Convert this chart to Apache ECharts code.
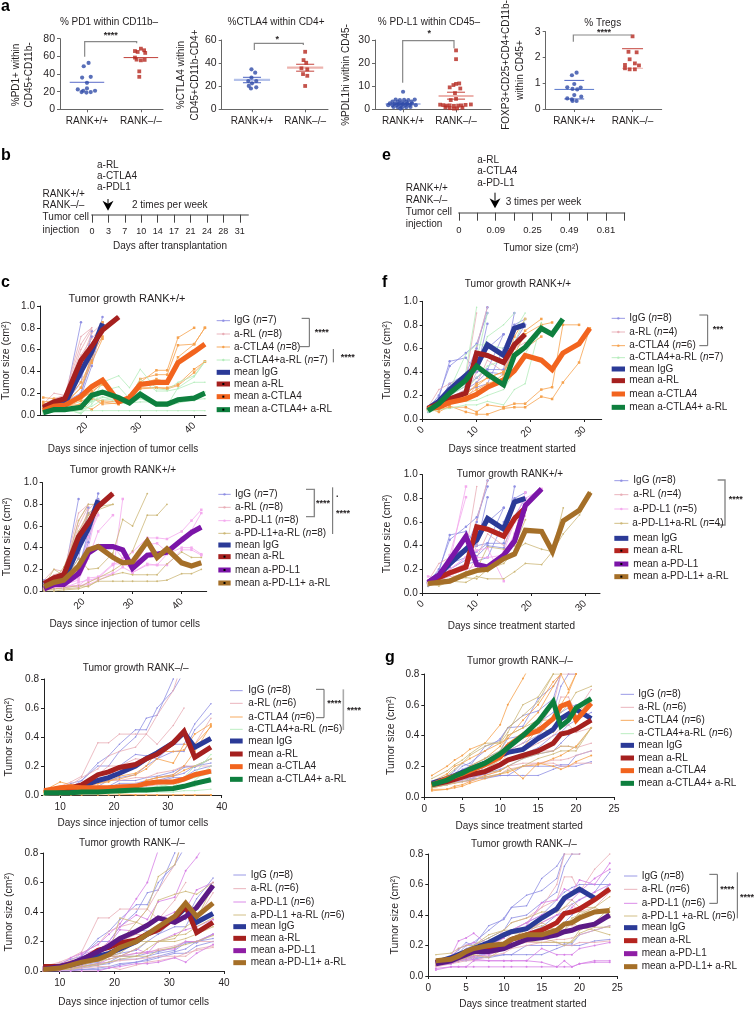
<!DOCTYPE html>
<html><head><meta charset="utf-8">
<style>html,body{margin:0;padding:0;background:#fff}#c{width:755px;height:1010px}</style>
<script src="https://cdn.jsdelivr.net/npm/echarts@6/dist/echarts.min.js"></script>
</head><body><div id="c"></div>
<script>
// ---------- PANEL a values: [jittered group position, value] ----------
const groupLabels = ['RANK+/+', 'RANK–/–'];
const a1Blue = [[1.03,52.6],[.94,48.8],[.91,36],[1.07,36.8],[1,30],[.83,22.5],[.93,21],[1,23.7],[.99,19],[1.07,19.5],[1.15,21],[.9,19.5]];
const a1Red = [[1.89,66],[2,68.7],[2.06,66.9],[1.94,65],[2.08,63.9],[1.89,58.6],[2,55.5],[1.92,56.3],[2.07,56],[1.97,43],[1.97,36.8]];
const a2Blue = [[.99,34.6],[1.06,31.7],[.99,27.4],[.93,24.5],[1.08,24.5],[1,22.5],[.94,20.2],[1.08,19],[.98,18]];
const a2Red = [[2,49.8],[1.97,42.6],[2.02,40.3],[1.93,35.5],[2.04,34.6],[1.96,30.5],[2.04,29],[2,20.2]];
const a3Blue = [[1,7.6],[.86,4.2],[.94,4],[1.02,4.1],[1.1,4],[1.22,4.2],[.8,3.3],[.9,3.2],[.98,3],[1.06,3.2],[1.16,3.3],[.75,2.6],[.84,2.5],[.92,2.4],[1,2.3],[1.08,2.5],[1.17,2.5],[.72,1.8],[.8,1.7],[.88,1.7],[.96,1.6],[1.04,1.7],[1.12,1.8],[1.24,1.8],[.82,1],[.9,.9],[.98,.8],[1.06,.9],[1.14,1],[.95,.3]];
const a3Red = [[2,25.5],[2,21.7],[2.06,11.2],[2,11],[1.95,10.5],[1.88,9.5],[2.08,9],[1.98,7],[2,4.5],[1.9,4],[1.7,2],[1.76,1.8],[1.82,1.6],[1.88,1.7],[1.96,1.5],[2.04,1.6],[2.1,1.7],[2.18,1.9],[2.28,2.1],[1.8,.8],[1.88,.5],[1.96,.3],[2.02,.4],[2.12,.7]];
const a4Blue = [[1.04,1.41],[.96,1.31],[.88,.84],[1,.97],[1.11,.83],[.97,.78],[1.05,.76],[1,.54],[1.12,.48],[.88,.41],[.96,.37],[1.04,.31],[.97,.31]];
const a4Red = [[2,2.82],[1.93,2.22],[2.07,2.2],[1.95,1.93],[2.04,1.77],[1.87,1.71],[2.11,1.69],[1.95,1.54],[2.04,1.54],[1.87,1.58]];
const aMeans = {a1:[30.6,58.6],a2:[25.4,36],a3:[2.3,5.8],a4:[.76,1.58]};
const aErrors = {a1:[[30.6,30.6],[58.6,58.6]],a2:[[23,27.7],[33,39]],a3:[[2,2.6],[4.4,7.4]],a4:[[.39,1.11],[1.58,2.34]]};

// ---------- PANEL b / e timelines ----------
const bTicks = ['0','3','7','10','14','17','21','24','28','31'];
const eTicks = ['0','','0.09','','0.25','','0.49','','0.81',''];

// ---------- PANELS c (days since injection) ----------
const cDays = [12,14,16,19,21,23,26,28,30,33,35,37,40,42,44];
const cIgG = [[.08,.10,.12,.85],[.07,.08,.10,.30,.77],[.05,.09,.12,.20,.50,.90],[.06,.07,.09,.17,.45,.84],[.10,.12,.15,.40,.72],[.04,.06,.08,.20,.55,.82],[.06,.10,.13,.35,.60,.85]];
const cRL = [[.10,.20,.18,.72,.80],[.08,.15,.18,.65,.80],[.07,.12,.16,.60,.78],[.06,.13,.15,.50,.75,.84],[.09,.14,.17,.55,.70,.82],[.05,.10,.14,.45,.65,.80,.90],[.08,.11,.15,.42,.60,.75],[.06,.09,.12,.38,.55,.72]];
const c1CTLA4 = [[.16,.15,.12,.16,.20,.30,.10,.15,.30,.41,.41,.71,.80],[.12,.13,.10,.14,.22,.28,.12,.16,.33,.37,.37,.64,.65,.80],[.05,.10,.08,.10,.05,.12,.10,.15,.28,.33,.30,.53,.65,.80],[.06,.08,.07,.13,.16,.10,.11,.18,.25,.25,.25,.28,.42,.49],[.04,.06,.05,.10,.15,.13,.12,.17,.24,.25,.24,.27,.39,.49],[.10,.12,.12,.30,.50,.85],[.08,.10,.11,.25,.48,.70],[.06,.09,.10,.25,.55,.72]];
const c1Combo = [[.02,.04,.05,.02,.13,.30,.36,.25,.42,.24,.23,.30,.36,.49],[.03,.05,.06,.01,.10,.22,.26,.15,.33,.22,.22,.24,.30,.30],[.01,.03,.04,.05,.08,.14,.14,.11,.12,.12,.12,.14,.13,.21],[.04,.04,.04,.04,.04,.04,.04,.04,.04,.04,.04,.04,.04,.04],[.02,.05,.05,.08,.15,.20,.14,.15,.22,.10,.10,.15,.14,.18],[.05,.08,.17,.10,.12,.16,.15,.10,.15,.10,.09,.25,.35,.49],[.03,.04,.06,.07,.13,.17,.11,.10,.16,.08,.08,.11,.14,.15]];
const c2PDL1 = [[.03,.05,.05,.05,.12,.13,.16,.85],[.02,.06,.06,.10,.30,.55,.70],[.01,.03,.03,.08,.10,.12,.24,.30,.36,.49,.49,.48,.55,.65,.75],[.02,.04,.04,.04,.08,.13,.25,.25,.21,.43,.44,.36,.49,.56,.72],[.01,.03,.03,.05,.06,.10,.16,.22,.17,.25,.24,.34,.40,.40,.34],[.03,.05,.06,.12,.35,.42,.42,.30,.17,.24,.24,.24,.38,.38,.33],[.01,.02,.03,.20,.40,.80],[.02,.04,.05,.15,.50,.70]];
const c2Combo = [[.05,.20,.14,.65,.80,.80],[.03,.10,.22,.55,.72,.78,.80],[.01,.05,.10,.50,.70,.75,.80],[.02,.06,.10,.30,.20,.21,.35,.66,.60,.90],[.01,.02,.02,.03,.08,.12,.19,.25,.37,.70,.70,.80],[.01,.02,.03,.05,.04,.10,.15,.17,.15,.15,.15,.25,.36,.31,.31],[0,0,.01,.02,.05,.09,.09,.09,.09,.09,.09,.10,.16,.16,.20]];
const cMeanIgG = [.06,.09,.10,.40,.58,.84];
const cMeanRL = [.07,.12,.15,.50,.63,.78,.90];
const c1MeanCTLA4 = [.04,.08,.09,.17,.26,.32,.12,.16,.28,.30,.30,.48,.58,.65];
const c1MeanCombo = [.02,.05,.05,.07,.18,.21,.16,.11,.19,.10,.10,.14,.155,.20];
const c2MeanPDL1 = [.02,.06,.06,.16,.35,.41,.41,.38,.21,.33,.34,.36,.47,.54,.59];
const c2MeanCombo = [.04,.08,.10,.23,.38,.41,.31,.26,.27,.46,.31,.39,.26,.23,.26];

// ---------- PANELS f (days since treatment) ----------
const fDays = [1,3,5,8,10,12,15,17,19,22,24,26,29,31];
const fIgG = [[.09,.20,.45,.56,.64,.90],[.08,.18,.49,.52,.40,.81],[.07,.12,.20,.28,.35,.42,.42,.90],[.10,.15,.22,.35,.40,.42,.72],[.09,.12,.18,.25,.31,.40,.38,.65,.80],[.08,.14,.30,.38,.60,.95],[.06,.10,.15,.24,.27,.30,.60,.80,.85],[.09,.15,.25,.30,.50,.60,.72]];
const fRL = [[.10,.25,.30,.35,.90],[.08,.15,.18,.25,.62,.95],[.09,.11,.14,.15,.30,.50,.40,.60,.72],[.10,.12,.15,.20,.40,.62,.55,.60,.65]];
const f1CTLA4 = [[.09,.06,.11,.06,.04,.04,.09,.10,.10,.19,.17,.31,.48,.77],[.08,.08,.10,.10,.06,.12,.10,.13,.13,.25,.27,.80,.80],[.10,.13,.15,.18,.20,.28,.38,.60,.75,.85],[.09,.10,.15,.20,.25,.30,.35,.55,.72,.80,.82],[.10,.12,.18,.22,.28,.35,.40,.70,.85],[.08,.10,.15,.20,.30,.35,.40,.55,.60,.70]];
const f1Combo = [[.07,.10,.18,.40,.95],[.06,.08,.09,.12,.12,.15,.12,.25,.30,.82],[.07,.12,.14,.15,.16,.20,.25,.40,.55,.80],[.06,.14,.25,.55,.63,.63,.60,.75,.90],[.08,.15,.20,.30,.50,.90],[.07,.10,.15,.25,.35,.45,.50,.65,.85],[.08,.09,.20,.28,.45,.70,.80,.90]];
const f2PDL1 = [[.14,.14,.25,.90],[.10,.15,.32,.81],[.08,.12,.20,.30,.36,.38,.10],[.09,.11,.15,.20,.23,.22,.35,.60,.85],[.10,.14,.20,.30,.30,.30,.32,.50,.80,.88]];
const f2Combo = [[.08,.06,.10,.09,.14,.12,.12,.18,.25,.24,.35,.50,.66,.85],[.07,.10,.11,.13,.12,.20,.25,.36,.42,.37,.35,.72],[.09,.10,.12,.18,.20,.18,.30,.32,.53],[.06,.08,.10,.15,.20,.39,.37,.40,.62]];
const fMeanIgG = [.09,.15,.25,.37,.45,.63,.54,.77,.80];
const fMeanRL = [.09,.13,.17,.22,.56,.54,.48,.63,.72];
const f1MeanCTLA4 = [.09,.10,.14,.17,.21,.27,.33,.41,.54,.50,.42,.56,.64,.77];
const f1MeanCombo = [.07,.13,.22,.33,.45,.38,.29,.54,.61,.77,.72,.85];
const f2MeanPDL1 = [.09,.15,.28,.48,.24,.22,.32,.44,.74,.88];
const f2MeanCombo = [.08,.09,.10,.16,.19,.20,.29,.33,.53,.52,.35,.61,.70,.85];

// ---------- PANELS d (days since injection, RANK-/-) ----------
const dDays = [7,10,12,14,17,19,21,24,26,28,31,33,35,38];
const dIgG = [[.03,.05,.08,.10,.22,.27,.35,.45,.45,.60,.72,.85],[.02,.04,.05,.10,.20,.20,.30,.40,.53,.55,.80,.95],[.01,.02,.03,.05,.10,.12,.20,.28,.27,.25,.35,.35,.49,.63],[.02,.03,.03,.04,.06,.10,.12,.14,.20,.25,.30,.30,.45,.56],[.01,.01,.02,.03,.05,.06,.10,.10,.12,.13,.16,.20,.19,.25],[0,.01,.01,.02,.04,.05,.08,.08,.10,.12,.14,.19,.20,.22],[0,0,0,.01,.01,.02,.04,.06,.08,.10,.13,.15,.20,.25],[.01,.01,.01,.01,.02,.03,.05,.06,.07,.09,.12,.12,.17,.20]];
const dRL = [[.03,.06,.09,.13,.36,.36,.42,.42,.42,.35,.48,.60],[.02,.05,.07,.12,.18,.27,.30,.33,.42,.55,.72,.95],[.03,.04,.06,.08,.14,.20,.20,.25,.24,.27,.35,.42,.35,.53],[.02,.03,.04,.04,.08,.10,.10,.12,.12,.15,.17,.20,.20,.20],[.01,.02,.02,.03,.05,.06,.07,.08,.09,.10,.10,.10,.15,.17],[0,.01,.01,.02,.03,.03,.01,.04,.06,.07,.09,.12,.14,.16]];
const d1CTLA4 = [[.03,.09,.07,.06,.08,.09,.13,.15,.20,.30,.30,.31,.42,.49],[.02,.04,.05,.06,.08,.10,.11,.14,.18,.25,.22,.35,.35,.47],[.01,.03,.04,.05,.05,.05,.06,.06,.10,.12,.13,.17,.20,.25],[0,0,0,0,0,0,0,0,0,0,0,0,0,0],[.01,.01,.02,.02,.02,.02,.01,0,0,0,0,0,0,0],[.02,.03,.03,.03,.04,.05,.05,.06,.10,.12,.14,.20,.30,.48]];
const d1Combo = [[.01,.01,.01,.02,.02,.03,.03,.03,.04,.05,.06,.10,.15,.28],[.01,.01,.02,.02,.03,.03,.04,.04,.04,.05,.08,.12,.20,.25],[0,.01,.01,.01,.01,.02,.02,.03,.03,.04,.05,.06,.10,.20],[.01,.01,.01,.01,.01,.01,.02,.02,.03,.03,.04,.05,.06,.10],[0,0,.01,.01,.01,.01,.01,.02,.02,.02,.02,.03,.03,.04],[.01,.02,.02,.02,.02,.02,.03,.04,.05,.06,.08,.10,.12,.15]];
const d2PDL1 = [[.02,.04,.09,.12,.18,.25,.32,.49,.60,.82,.95],[.01,.03,.05,.06,.12,.20,.30,.38,.35,.47,.50,.68,.77,.95],[0,.02,.03,.11,.15,.18,.28,.27,.32,.35,.40,.42,.55,.60],[.01,.02,.02,.04,.08,.10,.10,.15,.12,.20,.25,.28,.30,.35],[0,0,0,0,0,.02,.03,.05,.05,.06,.09,.06,.12,.18],[.01,.01,.02,.03,.05,.08,.10,.12,.13,.14,.15,.20,.20,.25]];
const d2Combo = [[.01,.02,.03,.05,.10,.12,.36,.33,.42,.64,.72,.95],[.01,.01,.03,.04,.07,.10,.20,.33,.30,.48,.52,.54,.52,.60],[0,.01,.02,.05,.07,.10,.12,.20,.20,.20,.24,.25,.30,.36],[0,.01,.01,.03,.05,.10,.10,.10,.15,.20,.20,.22,.25,.30],[.01,.02,.04,.05,.07,.08,.10,.15,.20,.20,.22,.30,.35,.58],[0,.01,.02,.03,.04,.06,.08,.10,.10,.14,.16,.18,.20,.24]];
const dMeanIgG = [.02,.03,.04,.06,.10,.12,.15,.20,.25,.29,.36,.43,.33,.39];
const dMeanRL = [.03,.03,.05,.07,.14,.16,.19,.21,.25,.28,.36,.44,.26,.33];
const d1MeanCTLA4 = [.03,.05,.055,.05,.05,.05,.055,.06,.08,.09,.09,.11,.14,.165];
const d1MeanCombo = [.015,.015,.015,.02,.02,.025,.03,.035,.035,.04,.045,.06,.08,.105];
const d2MeanPDL1 = [.01,.03,.05,.08,.13,.17,.22,.27,.31,.36,.33,.37,.43,.58];
const d2MeanCombo = [.01,.02,.04,.06,.08,.11,.16,.20,.25,.30,.37,.46,.37,.46];

// ---------- PANELS g (days since treatment, RANK-/-) ----------
const gDays = [1,3,4,5,6,8,10,11,13,15,17,18,19,20,22,24];
const gIgG = [[.09,.12,.15,.20,.22,.30,.38,.45,.53,.56,.64,.80,.90],[.10,.12,.14,.18,.20,.25,.30,.38,.40,.48,.55,.72,.80,.80,.95],[.09,.13,.17,.22,.20,.33,.37,.45,.46,.64,.72,.80],[.08,.10,.12,.15,.10,.20,.25,.30,.35,.40,.50,.55,.58,.60,.60,.60],[.08,.09,.10,.12,.12,.15,.20,.25,.28,.32,.40,.42,.47,.50,.55,.68],[.08,.10,.11,.12,.13,.15,.18,.20,.25,.28,.30,.35,.40,.44,.50,.60],[.07,.08,.10,.11,.12,.12,.14,.14,.14,.14,.18,.20,.20,.20,.23,.24],[.08,.09,.10,.10,.11,.13,.14,.14,.20,.20,.20,.21,.21,.27,.30,.33]];
const gRL = [[.09,.11,.12,.14,.15,.20,.30,.35,.38,.45,.50,.65,.65,.55,.70,.80],[.08,.10,.11,.13,.15,.18,.25,.30,.35,.45,.60,.80,.80,.80,.90],[.10,.12,.13,.14,.16,.20,.22,.28,.30,.35,.40,.45,.47,.42,.45,.55],[.08,.09,.10,.12,.13,.17,.20,.25,.28,.30,.30,.33,.33,.32,.35,.38],[.07,.09,.10,.11,.12,.14,.17,.20,.22,.22,.24,.24,.25,.27,.30,.33],[.06,.08,.09,.10,.10,.13,.15,.18,.20,.22,.22,.20,.20,.22,.22,.23]];
const g1CTLA4 = [[.14,.20,.24,.27,.31,.35,.47,.60,.77,.95],[.10,.15,.20,.22,.25,.30,.35,.38,.50,.60,.75,.80,.85],[.08,.10,.14,.16,.20,.25,.33,.40,.45,.55,.72,.80,.70,.80],[.07,.10,.12,.15,.18,.20,.25,.28,.32,.45,.50,.60,.68,.80],[.05,.05,.07,.08,.10,.14,.17,.20,.12,.22,.20,.18,.20,.23,.27],[.04,.05,.06,.07,.09,.12,.15,.16,.20,.21,.25,.27,.30,.33,.45]];
const g1Combo = [[.12,.17,.21,.24,.28,.35,.35,.42,.60,.65,.80,.80],[.09,.14,.18,.22,.27,.33,.36,.45,.53,.62,.80],[.08,.11,.13,.15,.20,.25,.30,.40,.45,.50,.50,.55,.60,.68,.72],[.07,.09,.12,.13,.15,.18,.24,.35,.42,.45,.42,.50,.52,.55,.62],[.06,.08,.10,.12,.14,.16,.17,.20,.25,.28,.30,.33,.33,.32,.45],[.06,.08,.09,.10,.11,.13,.15,.17,.20,.25,.28,.30,.30,.30,.45]];
const g2PDL1 = [[.09,.13,.23,.25,.28,.20,.20,.22,.33,.48,.50,.57,.55,.63,.60,.74],[.10,.12,.18,.20,.22,.20,.25,.30,.35,.40,.45,.50,.50,.55,.64,.70],[.07,.08,.10,.12,.13,.14,.18,.20,.28,.35,.40,.40,.45,.50,.55,.60],[.05,.06,.06,.06,.10,.10,.10,.10,.10,.18,.14,.14,.14,.18,.20,.22],[.04,.06,.06,.06,.06,.06,.06,.06,.06,.06,.06,.10,.06,.08,.10,.10],[.08,.10,.10,.11,.11,.10,.10,.10,.10,.09,.06,.06,.06,.08,.09,.09]];
const g2Combo = [[.14,.15,.18,.20,.20,.27,.30,.35,.38,.42,.42,.45,.50,.45,.45,.52],[.10,.12,.14,.16,.20,.25,.30,.30,.30,.35,.30,.30,.38,.40,.45,.40],[.08,.10,.12,.15,.18,.22,.28,.28,.27,.28,.30,.30,.35,.32,.30,.27],[.07,.09,.10,.12,.14,.18,.20,.25,.25,.25,.22,.22,.22,.28,.32,.32],[.08,.10,.11,.12,.14,.12,.18,.20,.23,.22,.22,.20,.23,.30,.35,.45],[.09,.10,.12,.13,.15,.20,.22,.25,.30,.33,.30,.35,.35,.42,.42,.42]];
const gMeanIgG = [.09,.12,.14,.16,.18,.22,.27,.29,.31,.38,.44,.51,.54,.57,.51];
const g1MeanRL = [.08,.10,.115,.13,.145,.165,.21,.24,.27,.30,.35,.41,.42,.44,.50];
const g2MeanRL = [.09,.11,.13,.15,.165,.17,.20,.24,.27,.30,.35,.41,.42,.44,.50,.57];
const g1MeanCTLA4 = [.08,.12,.135,.15,.17,.21,.26,.33,.40,.43,.51,.59,.61,.50,.61];
const g1MeanCombo = [.08,.11,.135,.155,.18,.22,.28,.32,.40,.49,.62,.46,.50,.58,.64];
const g2MeanPDL1 = [.08,.10,.12,.14,.16,.16,.18,.20,.24,.25,.27,.29,.30,.32,.34,.40];
const g2MeanCombo = [.10,.11,.13,.16,.18,.20,.21,.24,.27,.27,.30,.34,.35,.38,.42,.43];

// ---------- styles ----------
const FONT = 'Liberation Sans';
const TXT = '#231f20';
const THIN = {igg:'#8f8fe3', rl:'#e8adb6', ctla:'#f6a24e', combo:'#b4ecbb', pdl:'#f4aaee', pdlV:'#d780e6', tan:'#cdb878'};
const MEAN = {igg:'#2b3a97', rl:'#a5201f', ctla:'#f2641e', combo:'#0e7f3e', pdl:'#7b15a8', tan:'#a56f28', pdlD:'#5b1a85'};
const BLUE = '#2f4ba8', RED = '#b5281f';

const grids=[], xAxes=[], yAxes=[], series=[], titles=[], gfx=[];

function text(x,y,s,o){ o=o||{};
  gfx.push({type:'text',x:x,y:y,rotation:o.rot||0,silent:true,z:20,style:{text:s,fill:o.color||TXT,
    fontFamily:FONT,fontSize:o.size||10,fontWeight:o.weight||'normal',align:o.align||'left',verticalAlign:'middle',
    rich:{i:{fontStyle:'italic',fontFamily:FONT,fontSize:o.size||10,fill:TXT}}}});
}
function poly(pts,color,w){ gfx.push({type:'polyline',silent:true,z:19,shape:{points:pts},style:{stroke:color||'#666',lineWidth:w||1,fill:null}}); }

function addGrid(p){
  const i=grids.length;
  grids.push({left:p.left,top:p.top,width:p.right-p.left,height:p.bottom-p.top,containLabel:false});
  const ax=p.axisColor||'#222';
  xAxes.push({gridIndex:i,type:'value',min:p.xmin,max:p.xmax,
    name:p.xname||'',nameLocation:'middle',nameGap:p.xgap||20,nameTextStyle:{fontFamily:FONT,fontSize:10,color:TXT},
    axisLine:{show:true,onZero:false,lineStyle:{color:ax,width:p.axisW||1}},
    axisTick:{show:true,length:p.xtickLen||3,customValues:p.xticks,lineStyle:{color:p.tickColor||ax}},
    axisLabel:{show:true,customValues:p.xticks,rotate:p.rot||0,margin:p.xmargin||(p.rot?9:7),fontFamily:FONT,fontSize:p.xsize||10,color:TXT,formatter:p.xfmt||(v=>String(v)),hideOverlap:false,showMinLabel:true,showMaxLabel:true},
    splitLine:{show:false}});
  yAxes.push({gridIndex:i,type:'value',min:p.ymin||0,max:p.ymax,show:!p.hideY,
    name:p.yname||'',nameLocation:'middle',nameGap:p.ygap||27,nameRotate:90,nameTextStyle:{fontFamily:FONT,fontSize:10.5,color:TXT},
    axisLine:{show:true,onZero:false,lineStyle:{color:ax,width:p.axisW||1}},
    axisTick:{show:true,length:3,customValues:p.yticks,lineStyle:{color:ax}},
    axisLabel:{show:true,customValues:p.yticks,margin:5,fontFamily:FONT,fontSize:p.ysize||10,color:TXT,formatter:p.yfmt||(v=>v.toFixed(1))},
    splitLine:{show:false}});
  return i;
}

function pairs(days,vals){ return vals.map((v,k)=>[days[k],v]); }

function growth(p){
  const i=addGrid(p);
  p.thin.forEach(g=>g.lines.forEach((vals,n)=>{
    series.push({name:g.name+' '+(n+1),type:'line',xAxisIndex:i,yAxisIndex:i,data:pairs(p.days,p.limit?vals.slice(0,p.limit):vals),
      clip:true,silent:true,showSymbol:true,symbol:g.symbol||'circle',symbolSize:g.size||2.5,z:2,
      itemStyle:{color:g.color},lineStyle:{color:g.color,width:.8},animation:false});
  }));
  p.mean.forEach((g,n)=>{
    series.push({name:g.name,type:'line',xAxisIndex:i,yAxisIndex:i,data:pairs(p.days,g.vals),clip:true,silent:true,
      showSymbol:false,z:3+n,itemStyle:{color:g.color},lineStyle:{color:g.color,width:p.meanW||5.2,join:'miter',cap:'butt'},animation:false});
  });
  titles.push({text:p.title,left:p.tx,top:p.ty-5,textAlign:'center',padding:0,itemGap:0,
    textStyle:{fontFamily:FONT,fontSize:p.tsize||10,fontWeight:'normal',color:TXT}});
  // legend
  const L=p.legend, Z=(ox,v)=>ox+v/3;
  L.labels.forEach((lab,k)=>{
    const y=Z(L.oy,L.ys[k]), x0=Z(L.ox,L.x0), x1=Z(L.ox,L.x1);
    if(k<4){
      poly([[x0,y],[x1,y]],L.colors[k],.9);
      if(L.marks!==false) gfx.push({type:'circle',silent:true,z:20,shape:{cx:(x0+x1)/2,cy:y,r:1.2},style:{fill:L.colors[k]}});
    } else {
      gfx.push({type:'rect',silent:true,z:20,shape:{x:x0,y:y-2.5,width:x1-x0,height:5},style:{fill:L.colors[k]}});
      if(L.dots&&L.dots[k-4]) gfx.push({type:'rect',silent:true,z:21,shape:{x:(x0+x1)/2-1,y:y-1,width:2,height:2},style:{fill:'#000'}});
    }
    text(Z(L.ox,(L.tx2&&k===3)?L.tx2:L.tx),y,lab);
  });
  (L.brackets||[]).forEach(b=>poly(b.pts.map(q=>[Z(L.ox,q[0]),Z(L.oy,q[1])]),b.color||'#666',b.w||1));
  (L.stars||[]).forEach(s=>text(Z(L.ox,s[0]),Z(L.oy,s[1]),s[2],{size:9,align:'center',weight:'bold'}));
}

// ---------- panel a ----------
function dotPanel(p){
  const i=addGrid(Object.assign(p,{axisColor:'#666',xticks:[1,2],xfmt:v=>groupLabels[v-1],xmargin:7,ysize:10.5,xsize:10,yfmt:v=>String(v)}));
  const m=aMeans[p.key], e=aErrors[p.key];
  [0,1].forEach(g=>{
    const c=g?RED:BLUE, cx=g+1, mw=(g&&p.mwR)||p.mw, ew=(g&&p.ewR)||p.ew;
    series.push({name:groupLabels[g]+' mean',type:'line',xAxisIndex:i,yAxisIndex:i,silent:true,showSymbol:false,z:2,
      data:[[cx-mw,m[g]],[cx+mw,m[g]]],lineStyle:{color:g?p.meanRed:p.meanBlue,width:p.meanW||1},animation:false});
    e[g].forEach(v=>{ if(Math.abs(v-m[g])>1e-6) series.push({name:groupLabels[g]+' sem',type:'line',xAxisIndex:i,yAxisIndex:i,silent:true,showSymbol:false,z:2,
      data:[[cx-ew,v],[cx+ew,v]],lineStyle:{color:g?'#c4433c':'#4a62c0',width:1},animation:false}); });
    series.push({name:groupLabels[g],type:'scatter',xAxisIndex:i,yAxisIndex:i,silent:true,z:4,symbol:g?'rect':'circle',symbolSize:g?3.8:4.2,
      data:g?p.red:p.blue,itemStyle:{color:c},animation:false});
  });
  titles.push({text:p.title,left:p.tx,top:p.ty-5,textAlign:'center',padding:0,textStyle:{fontFamily:FONT,fontSize:10,fontWeight:'normal',color:TXT}});
  p.ytitles.forEach(t=>text(t[0],t[1],t[2],{rot:Math.PI/2,align:'center',size:10}));
  const S=q=>[p.bx+q[0]/3,q[1]/3];
  poly(p.bracket.map(S),'#888',1.2);
  const st=S(p.star); text(st[0],st[1],p.star[2],{size:9,align:'center',weight:'bold'});
}
dotPanel({key:'a1',left:60,right:163,top:38.7,bottom:109.3,xmin:.5,xmax:2.41,ymax:80,yticks:[0,20,40,60,80],blue:a1Blue,red:a1Red,mw:.32,ew:.32,meanBlue:'#5a6ac9',meanRed:'#c0403a',bx:0,
  title:'% PD1 within CD11b–',tx:109,ty:22.7,ytitles:[[16.7,75,'%PD1+ within'],[29,75,'CD45+CD11b-']],
  bracket:[[254,170],[254,125],[410,125],[410,130]],star:[332,107,'****']});
dotPanel({key:'a2',left:221.7,right:328,top:40,bottom:109.3,xmin:.43,xmax:2.43,ymax:60,yticks:[0,20,40,60],blue:a2Blue,red:a2Red,mw:.34,ew:.17,meanW:2.2,meanBlue:'#b4c1ea',meanRed:'#edb3ae',bx:0,
  title:'%CTLA4 within CD4+',tx:276,ty:22.7,ytitles:[[181.7,75,'%CTLA4 within'],[195.7,75,'CD45+CD11b-CD4+']],
  bracket:[[763,150],[763,130],[910,130],[910,135]],star:[832,118,'*']});
dotPanel({key:'a3',left:375,right:491,top:40,bottom:109.3,xmin:.47,xmax:2.66,ymax:30,yticks:[0,10,20,30],blue:a3Blue,red:a3Red,mw:.33,ew:.17,meanW:2,meanBlue:'#b4c1ea',meanRed:'#edb3ae',bx:380,
  title:'% PD-L1 within CD45–',tx:429,ty:22.7,ytitles:[[346.7,75,'%PDL1hi within CD45-']],
  bracket:[[68,248],[68,122],[222,122],[222,145]],star:[148,100,'*']});
dotPanel({key:'a4',left:545.7,right:661.7,top:31.7,bottom:109,xmin:.51,xmax:2.5,ymax:3,yticks:[0,1,2,3],blue:a4Blue,red:a4Red,mw:.34,ew:.17,mwR:.18,ewR:.18,meanBlue:'#5a78cc',meanRed:'#edb3ae',bx:380,
  title:'% Tregs',tx:602.7,ty:23.3,ytitles:[[506.7,65,'FOXP3+CD25+CD4+CD11b-'],[520,70,'within CD45+']],
  bracket:[[580,125],[580,105],[755,105]],star:[672,97,'****']});

// ---------- panels b, e ----------
addGrid({left:92,right:248,top:200,bottom:214.7,xmin:0,xmax:9.5,ymax:1,xticks:[0,1,2,3,4,5,6,7,8,9],xfmt:v=>bTicks[v],hideY:true,
  axisColor:'#a0a0a0',axisW:2,tickColor:'#444',xtickLen:8,xmargin:12,xsize:9});
addGrid({left:459,right:624.3,top:198,bottom:212.7,xmin:0,xmax:9,ymax:1,xticks:[0,1,2,3,4,5,6,7,8,9],xfmt:v=>eTicks[v],hideY:true,
  axisColor:'#a0a0a0',axisW:2,tickColor:'#444',xtickLen:8,xmargin:13,xsize:9.5});
function arrow(x,y0,y1){ poly([[x,y0],[x,y1-6]],'#000',1);
  gfx.push({type:'polygon',silent:true,z:20,shape:{points:[[x-5.5,y1-10],[x,y1-7],[x+5.5,y1-10],[x,y1]]},style:{fill:'#000'}}); }
arrow(108,199,210.7); arrow(495,192.7,208.3);
[[97,165,'a-RL'],[97,176.3,'a-CTLA4'],[97,187.7,'a-PDL1'],[42.6,194,'RANK+/+'],[42.6,205.7,'RANK–/–'],[42.6,217.7,'Tumor cell'],[42.6,230.7,'injection'],[132,205.7,'2 times per week'],
 [477.3,160,'a-RL'],[477.3,171.7,'a-CTLA4'],[477.3,183,'a-PD-L1'],[405.7,188.3,'RANK+/+'],[405.7,200.3,'RANK–/–'],[405.7,212.7,'Tumor cell'],[405.7,224.3,'injection'],[505.7,202.3,'3 times per week']
].forEach(t=>text(t[0],t[1],t[2]));
text(170,246.7,'Days after transplantation',{align:'center'});
text(541,248.3,'Tumor size (cm²)',{align:'center'});

// panel letters
[[1,7,'a'],[1,156,'b'],[382,156,'e'],[1,283,'c'],[382,283,'f'],[4,657,'d'],[385,658,'g']].forEach(t=>text(t[0],t[1],t[2],{weight:'bold',size:16,color:'#000'}));

// ---------- growth panels ----------
const YT = 'Tumor size (cm²)', XI='Days since injection of tumor cells', XT='Days since treatment started';

growth({left:39.5,right:206,top:306,bottom:415,xmin:11.4,xmax:42.2,ymax:1,xticks:[20,30,40],yticks:[0,.2,.4,.6,.8,1],rot:45,
  days:cDays,title:'Tumor growth RANK+/+',tx:127,ty:298,tsize:11,xname:XI,xgap:29,yname:YT,ygap:28,
  thin:[{name:'IgG',color:THIN.igg,lines:cIgG},{name:'a-RL',color:THIN.rl,lines:cRL,size:1.5},{name:'a-CTLA4',color:THIN.ctla,lines:c1CTLA4,symbol:'rect'},{name:'a-CTLA4+a-RL',color:THIN.combo,lines:c1Combo,size:1.5}],
  mean:[{name:'mean IgG',color:MEAN.igg,vals:cMeanIgG},{name:'mean a-RL',color:MEAN.rl,vals:cMeanRL},{name:'mean a-CTLA4',color:MEAN.ctla,vals:c1MeanCTLA4},{name:'mean a-CTLA4+ a-RL',color:MEAN.combo,vals:c1MeanCombo}],
  legend:{ox:0,oy:270,x0:650,x1:690,tx:702,ys:[152,192,231,270,307,342,380,419],dots:[0,1,1,1],
    colors:[THIN.igg,THIN.rl,THIN.ctla,THIN.combo,MEAN.igg,MEAN.rl,MEAN.ctla,MEAN.combo],
    labels:['IgG ({i|n}=7)','a-RL ({i|n}=8)','a-CTLA4 ({i|n}=8)','a-CTLA4+a-RL ({i|n}=7)','mean IgG','mean a-RL','mean a-CTLA4','mean a-CTLA4+ a-RL'],
    brackets:[{pts:[[905,145],[928,145],[928,230],[900,230]]},{pts:[[1000,237],[1000,277]]}],stars:[[965,187,'****'],[1043,262,'****']]}});

growth({left:42.7,right:206.7,top:482.7,bottom:591,xmin:11.7,xmax:45.1,ymax:1,xticks:[20,30,40],yticks:[0,.2,.4,.6,.8,1],rot:45,
  days:cDays,title:'Tumor growth RANK+/+',tx:123,ty:470.7,xname:XI,xgap:28,yname:YT,ygap:30,
  thin:[{name:'IgG',color:THIN.igg,lines:cIgG},{name:'a-RL',color:THIN.rl,lines:cRL,size:1.5},{name:'a-PD-L1',color:THIN.pdl,lines:c2PDL1,symbol:'rect'},{name:'a-PD-L1+a-RL',color:THIN.tan,lines:c2Combo,size:1.8}],
  mean:[{name:'mean IgG',color:MEAN.igg,vals:cMeanIgG},{name:'mean a-RL',color:MEAN.rl,vals:cMeanRL},{name:'mean a-PD-L1',color:MEAN.pdl,vals:c2MeanPDL1},{name:'mean a-PD-L1+ a-RL',color:MEAN.tan,vals:c2MeanCombo}],
  legend:{ox:0,oy:450,x0:655,x1:692,tx:705,ys:[133,172,212,250,285,320,360,399],dots:[0,1,1,1],
    colors:[THIN.igg,THIN.rl,THIN.pdl,THIN.tan,MEAN.igg,MEAN.rl,MEAN.pdl,MEAN.tan],
    labels:['IgG ({i|n}=7)','a-RL ({i|n}=8)','a-PD-L1 ({i|n}=8)','a-PD-L1+a-RL ({i|n}=8)','mean IgG','mean a-RL','mean a-PD-L1','mean a-PD-L1+ a-RL'],
    brackets:[{pts:[[918,118],[943,118],[943,200],[918,200]],color:'#888',w:1.4},{pts:[[998,112],[998,252]]}],stars:[[969,162,'****'],[1029,192,'****'],[1012,135,'.']]}});

growth({left:44,right:221.7,top:679,bottom:795,xmin:7,xmax:40,ymax:.8,xticks:[10,20,30,40],yticks:[0,.2,.4,.6,.8],meanW:5,
  days:dDays,title:'Tumor growth RANK–/–',tx:135.7,ty:668,xname:XI,xgap:23,yname:YT,ygap:29,
  thin:[{name:'IgG',color:THIN.igg,lines:dIgG,size:1.5},{name:'a-RL',color:THIN.rl,lines:dRL,size:1.5},{name:'a-CTLA4',color:THIN.ctla,lines:d1CTLA4,size:2},{name:'a-CTLA4+a-RL',color:THIN.combo,lines:d1Combo,size:1.5}],
  mean:[{name:'mean IgG',color:MEAN.igg,vals:dMeanIgG},{name:'mean a-RL',color:MEAN.rl,vals:dMeanRL},{name:'mean a-CTLA4',color:MEAN.ctla,vals:d1MeanCTLA4},{name:'mean a-CTLA4+ a-RL',color:MEAN.combo,vals:d1MeanCombo}],
  legend:{ox:0,oy:620,x0:690,x1:728,tx:745,ys:[212,250,291,328,363,402,440,478],marks:false,
    colors:[THIN.igg,THIN.rl,THIN.ctla,THIN.combo,MEAN.igg,MEAN.rl,MEAN.ctla,MEAN.combo],
    labels:['IgG ({i|n}=8)','a-RL ({i|n}=6)','a-CTLA4 ({i|n}=6)','a-CTLA4+a-RL ({i|n}=6)','mean IgG','mean a-RL','mean a-CTLA4','mean a-CTLA4+ a-RL'],
    brackets:[{pts:[[948,208],[972,208],[972,293],[948,293]]},{pts:[[1030,208],[1030,330]],color:'#aaa',w:1.6}],stars:[[1003,250,'****'],[1062,272,'****']]}});

growth({left:43.3,right:224,top:853,bottom:971,xmin:7,xmax:40,ymax:.8,xticks:[10,20,30,40],yticks:[0,.2,.4,.6,.8],meanW:5,
  days:dDays,title:'Tumor growth RANK–/–',tx:132,ty:843,xname:XI,xgap:26,yname:YT,ygap:29,
  thin:[{name:'IgG',color:THIN.igg,lines:dIgG,size:1.5},{name:'a-RL',color:THIN.rl,lines:dRL,size:1.5},{name:'a-PD-L1',color:THIN.pdlV,lines:d2PDL1,size:2},{name:'a-PD-L1+a-RL',color:THIN.tan,lines:d2Combo,size:1.5}],
  mean:[{name:'mean IgG',color:MEAN.igg,vals:dMeanIgG},{name:'mean a-RL',color:MEAN.rl,vals:dMeanRL},{name:'mean a-PD-L1',color:MEAN.pdlD,vals:d2MeanPDL1},{name:'mean a-PD-L1+ a-RL',color:MEAN.tan,vals:d2MeanCombo}],
  legend:{ox:0,oy:810,x0:700,x1:738,tx:752,ys:[195,236,276,315,350,385,422,458],marks:false,
    colors:[THIN.igg,THIN.rl,THIN.pdlV,THIN.tan,MEAN.igg,MEAN.rl,'#8f1ea5',MEAN.tan],
    labels:['IgG ({i|n}=8)','a-RL ({i|n}=6)','a-PD-L1 ({i|n}=6)','a-PD-L1 +a-RL ({i|n}=6)','mean IgG','mean a-RL','mean a-PD-L1','mean a-PD-L1+ a-RL']}});

growth({left:422.7,right:601.7,top:301.3,bottom:419,xmin:0,xmax:33.2,ymax:1,xticks:[0,10,20,30],yticks:[0,.2,.4,.6,.8,1],rot:45,
  days:fDays,title:'Tumor growth RANK+/+',tx:518,ty:284,xname:XT,xgap:25,yname:YT,ygap:30,
  thin:[{name:'IgG',color:THIN.igg,lines:fIgG},{name:'a-RL',color:THIN.rl,lines:fRL,size:1.5},{name:'a-CTLA4',color:THIN.ctla,lines:f1CTLA4,symbol:'rect'},{name:'a-CTLA4+a-RL',color:THIN.combo,lines:f1Combo,size:1.5}],
  mean:[{name:'mean IgG',color:MEAN.igg,vals:fMeanIgG},{name:'mean a-RL',color:MEAN.rl,vals:fMeanRL},{name:'mean a-CTLA4',color:MEAN.ctla,vals:f1MeanCTLA4},{name:'mean a-CTLA4+ a-RL',color:MEAN.combo,vals:f1MeanCombo}],
  legend:{ox:380,oy:270,x0:695,x1:735,tx:748,ys:[145,186,227,263,297,332,372,412],
    colors:[THIN.igg,THIN.rl,THIN.ctla,THIN.combo,MEAN.igg,MEAN.rl,MEAN.ctla,MEAN.combo],
    labels:['IgG ({i|n}=8)','a-RL ({i|n}=4)','a-CTLA4 ({i|n}=6)','a-CTLA4+a-RL ({i|n}=7)','mean IgG','mean a-RL','mean a-CTLA4','mean a-CTLA4+ a-RL'],
    brackets:[{pts:[[958,135],[983,135],[983,227],[958,227]]}],stars:[[1014,180,'***']]}});

growth({left:422.7,right:600,top:474.7,bottom:593,xmin:0,xmax:32.8,ymax:1,xticks:[0,10,20,30],yticks:[0,.2,.4,.6,.8,1],rot:45,
  days:fDays,title:'Tumor growth RANK+/+',tx:510,ty:474.7,xname:XT,xgap:28,yname:YT,ygap:30,
  thin:[{name:'IgG',color:THIN.igg,lines:fIgG},{name:'a-RL',color:THIN.rl,lines:fRL,size:1.5},{name:'a-PD-L1',color:THIN.pdl,lines:f2PDL1,symbol:'rect'},{name:'a-PD-L1+a-RL',color:THIN.tan,lines:f2Combo,size:1.8}],
  mean:[{name:'mean IgG',color:MEAN.igg,vals:fMeanIgG},{name:'mean a-RL',color:'#b5241f',vals:fMeanRL},{name:'mean a-PD-L1',color:MEAN.pdl,vals:f2MeanPDL1},{name:'mean a-PD-L1+ a-RL',color:MEAN.tan,vals:f2MeanCombo}],
  legend:{ox:380,oy:450,x0:703,x1:745,tx:760,tx2:757,ys:[92,134,177,220,265,302,342,380],dots:[0,1,1,1],
    colors:[THIN.igg,THIN.rl,THIN.pdl,THIN.tan,MEAN.igg,'#b5241f',MEAN.pdl,MEAN.tan],
    labels:['IgG ({i|n}=8)','a-RL ({i|n}=4)','a-PD-L1 ({i|n}=5)','a-PD-L1+a-RL ({i|n}=4)','mean IgG','mean a-RL','mean a-PD-L1','mean a-PD-L1+ a-RL'],
    brackets:[{pts:[[1013,90],[1035,90],[1035,225],[1013,225]],color:'#888',w:1.4}],stars:[[1067,150,'****']]}});

growth({left:424.3,right:614,top:674,bottom:797,xmin:0,xmax:25,ymax:.8,xticks:[0,5,10,15,20,25],yticks:[0,.2,.4,.6,.8],meanW:5,
  days:gDays,limit:15,title:'Tumor growth RANK–/–',tx:520,ty:661,xname:XT,xgap:24,yname:YT,ygap:28,
  thin:[{name:'IgG',color:THIN.igg,lines:gIgG,size:1.5},{name:'a-RL',color:THIN.rl,lines:gRL,size:1.5},{name:'a-CTLA4',color:THIN.ctla,lines:g1CTLA4,size:2},{name:'a-CTLA4+a-RL',color:THIN.tan,lines:g1Combo,size:1.5}],
  mean:[{name:'mean IgG',color:MEAN.igg,vals:gMeanIgG},{name:'mean a-RL',color:MEAN.rl,vals:g1MeanRL},{name:'mean a-CTLA4',color:MEAN.ctla,vals:g1MeanCTLA4},{name:'mean a-CTLA4+ a-RL',color:MEAN.combo,vals:g1MeanCombo}],
  legend:{ox:380,oy:620,x0:722,x1:762,tx:775,ys:[223,262,301,341,376,414,452,490],marks:false,
    colors:[THIN.igg,THIN.rl,THIN.ctla,THIN.combo,MEAN.igg,MEAN.rl,MEAN.ctla,MEAN.combo],
    labels:['IgG ({i|n}=8)','a-RL ({i|n}=6)','a-CTLA4 ({i|n}=6)','a-CTLA4+a-RL ({i|n}=6)','mean IgG','mean a-RL','mean a-CTLA4','mean a-CTLA4+ a-RL']}});

growth({left:428.3,right:617.3,top:854,bottom:977,xmin:0,xmax:25,ymax:.8,xticks:[0,5,10,15,20,25],yticks:[0,.2,.4,.6,.8],meanW:5,
  days:gDays,title:'Tumor growth RANK–/–',tx:524,ty:844,xname:XT,xgap:23,yname:YT,ygap:28,
  thin:[{name:'IgG',color:THIN.igg,lines:gIgG,size:1.5},{name:'a-RL',color:THIN.rl,lines:gRL,size:1.5},{name:'a-PD-L1',color:THIN.pdlV,lines:g2PDL1,size:2},{name:'a-PD-L1+a-RL',color:THIN.tan,lines:g2Combo,size:1.5}],
  mean:[{name:'mean IgG',color:MEAN.igg,vals:gMeanIgG},{name:'mean a-RL',color:'#b5241f',vals:g2MeanRL},{name:'mean a-PD-L1',color:MEAN.pdlD,vals:g2MeanPDL1},{name:'mean a-PD-L1+ a-RL',color:MEAN.tan,vals:g2MeanCombo}],
  legend:{ox:380,oy:810,x0:732,x1:772,tx:785,ys:[198,238,280,318,353,392,431,470],marks:false,
    colors:[THIN.igg,THIN.rl,THIN.pdlV,THIN.tan,MEAN.igg,'#b5241f','#8f1ea5',MEAN.tan],
    labels:['IgG ({i|n}=8)','a-RL ({i|n}=6)','a-PD-L1 ({i|n}=6)','a-PD-L1 +a-RL ({i|n}=6)','mean IgG','mean a-RL','mean a-PD-L1','mean a-PD-L1+ a-RL'],
    brackets:[{pts:[[988,193],[1012,193],[1012,280],[988,280]]},{pts:[[1072,187],[1072,325]]}],stars:[[1042,238,'****'],[1101,262,'****']]}});

const chart=echarts.init(document.getElementById('c'),null,{renderer:'canvas',width:755,height:1010});
chart.setOption({animation:false,backgroundColor:'#fff',title:titles,tooltip:{show:false},grid:grids,xAxis:xAxes,yAxis:yAxes,series:series,graphic:{elements:gfx}});
</script></body></html>
